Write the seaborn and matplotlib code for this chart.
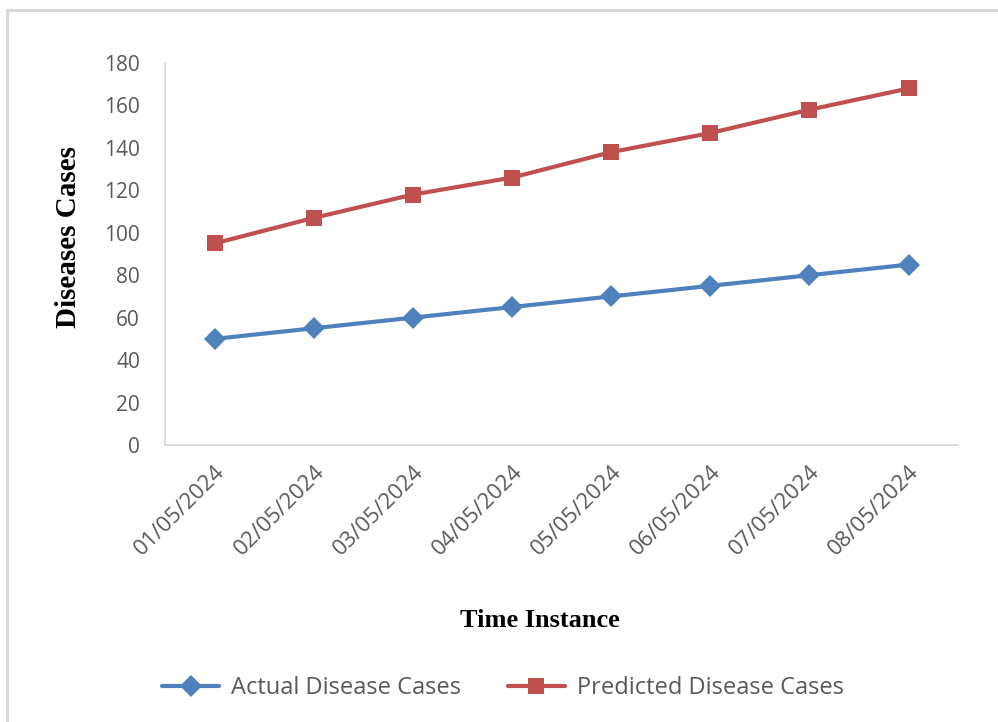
import numpy as np
import pandas as pd
import matplotlib
matplotlib.use("Agg")
import matplotlib.pyplot as plt
from matplotlib.lines import Line2D
import seaborn as sns

# data
dates = ['01/05/2024', '02/05/2024', '03/05/2024', '04/05/2024',
         '05/05/2024', '06/05/2024', '07/05/2024', '08/05/2024']
actual = [50, 55, 60, 65, 70, 75, 80, 85]
predicted = [95, 107, 118, 126, 138, 147, 158, 168]
series_names = ['Actual Disease Cases', 'Predicted Disease Cases']

df = pd.DataFrame({'date': dates * 2,
                   'cases': actual + predicted,
                   'series': [series_names[0]] * len(dates) + [series_names[1]] * len(dates)})

sns.set_style('white')
plt.rcParams['font.family'] = ['Open Sans', 'DejaVu Sans']

fig = plt.figure(figsize=(9.98, 7.22), dpi=100)
ax = fig.add_axes([0.1653, 0.3837, 0.7947, 0.529])

blue, red = '#4F81BD', '#C0504D'
palette = {series_names[0]: blue, series_names[1]: red}
sns.lineplot(data=df, x='date', y='cases', hue='series', style='series',
             markers={series_names[0]: 'D', series_names[1]: 's'},
             dashes=False, palette=palette, linewidth=3.0, markersize=11,
             markeredgewidth=0, ax=ax, sort=False)

ax.set_xlim(-0.5, len(dates) - 0.5)
ax.set_ylim(0, 180)
ax.set_yticks(np.arange(0, 181, 20))
for s in ['top', 'right']:
    ax.spines[s].set_visible(False)
for s in ['left', 'bottom']:
    ax.spines[s].set_color('#D9D9D9')
    ax.spines[s].set_linewidth(1.3)
ax.tick_params(axis='y', length=0, labelsize=15, labelcolor='#595959', pad=18)
ax.tick_params(axis='x', length=0, labelsize=16, labelcolor='#595959', pad=12)
plt.setp(ax.get_xticklabels(), rotation=45, ha='right', rotation_mode='anchor')

ax.set_xlabel('Time Instance', family='Liberation Serif', fontweight='bold',
              fontsize=19, color='black')
ax.set_ylabel('Diseases Cases', family='Liberation Serif', fontweight='bold',
              fontsize=21, color='black')
ax.xaxis.set_label_coords(0.473, -0.429)
ax.yaxis.set_label_coords(-0.105, 0.545)

ax.get_legend().remove()
handles = [Line2D([], [], color=blue, marker='D', lw=3.0, ms=11, mew=0),
           Line2D([], [], color=red, marker='s', lw=3.0, ms=11, mew=0)]
leg = fig.legend(handles, series_names, loc='center', bbox_to_anchor=(0.504, 0.047),
                 ncol=2, frameon=False, fontsize=17, handlelength=2.4,
                 columnspacing=2.0, handletextpad=0.5)
for t in leg.get_texts():
    t.set_color('#595959')

# chart border (cropped on right and bottom)
fig.add_artist(Line2D([0.0075, 0.0075], [0, 1 - 10 / 722], color='#D9D9D9', lw=2.2,
                      transform=fig.transFigure))
fig.add_artist(Line2D([0.0075, 1], [1 - 10 / 722, 1 - 10 / 722], color='#D9D9D9', lw=2.2,
                      transform=fig.transFigure))

fig.savefig('out.png', dpi=100)
